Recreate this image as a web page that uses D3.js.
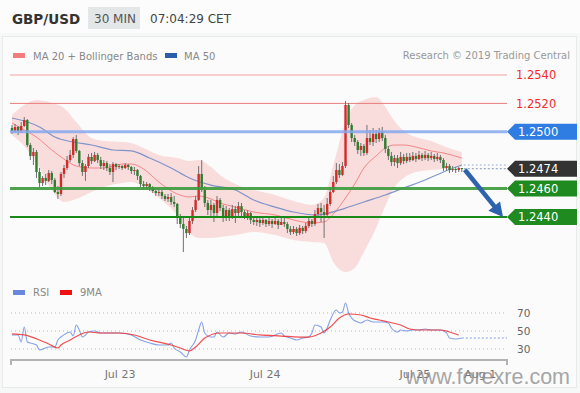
<!DOCTYPE html>
<html><head><meta charset="utf-8">
<script src="https://cdn.jsdelivr.net/npm/d3@7"></script>
<style>html,body{margin:0;padding:0;background:#f6f7f7;}svg{display:block;font-family:"DejaVu Sans",sans-serif;}</style>
</head><body><svg id="c" width="580" height="393"></svg>
<script>
// ---------- DATA ----------
const firstOpen = 1.25027;
const closes = [1.25006,1.25034,1.25006,1.25041,1.25083,1.24907,1.24830,1.24858,1.24717,1.24639,
1.24675,1.24654,1.24710,1.24661,1.24576,1.24562,1.24703,1.24745,1.24801,1.24837,
1.24949,1.24865,1.24780,1.24717,1.24759,1.24823,1.24794,1.24837,1.24801,1.24759,
1.24780,1.24745,1.24717,1.24773,1.24752,1.24759,1.24745,1.24766,1.24752,1.24724,
1.24731,1.24689,1.24632,1.24618,1.24632,1.24604,1.24583,1.24569,1.24576,1.24548,
1.24527,1.24541,1.24506,1.24492,1.24393,1.24351,1.24316,1.24287,1.24372,1.24449,
1.24520,1.24703,1.24590,1.24499,1.24449,1.24485,1.24428,1.24520,1.24463,1.24393,
1.24449,1.24400,1.24456,1.24428,1.24477,1.24435,1.24407,1.24428,1.24379,1.24365,
1.24379,1.24358,1.24379,1.24351,1.24372,1.24351,1.24372,1.24344,1.24365,1.24351,
1.24316,1.24294,1.24316,1.24287,1.24323,1.24301,1.24337,1.24372,1.24351,1.24421,
1.24463,1.24435,1.24414,1.24492,1.24576,1.24646,1.24731,1.24696,1.24759,1.25189,
1.25048,1.24956,1.24928,1.24872,1.24900,1.24851,1.24956,1.24928,1.24985,1.24949,
1.24999,1.24956,1.24879,1.24830,1.24787,1.24815,1.24780,1.24823,1.24794,1.24823,
1.24801,1.24830,1.24808,1.24837,1.24815,1.24837,1.24815,1.24830,1.24808,1.24823,
1.24801,1.24745,1.24759,1.24731,1.24738,1.24731,1.24745,1.24740];
const highs = [1.25048,1.25055,1.25041,1.25069,1.25104,1.25090,1.24921,1.24886,1.24872,1.24745,
1.24689,1.24703,1.24731,1.24724,1.24675,1.24618,1.24717,1.24766,1.24830,1.24872,
1.24963,1.24977,1.24872,1.24801,1.24773,1.24844,1.24851,1.24858,1.24851,1.24823,
1.24801,1.24794,1.24773,1.24787,1.24780,1.24773,1.24766,1.24780,1.24773,1.24759,
1.24752,1.24738,1.24696,1.24654,1.24646,1.24639,1.24618,1.24597,1.24597,1.24590,
1.24562,1.24562,1.24569,1.24548,1.24499,1.24421,1.24393,1.24337,1.24393,1.24470,
1.24548,1.24759,1.24801,1.24618,1.24520,1.24520,1.24499,1.24548,1.24534,1.24485,
1.24477,1.24463,1.24485,1.24477,1.24506,1.24499,1.24449,1.24449,1.24435,1.24400,
1.24400,1.24393,1.24400,1.24386,1.24393,1.24386,1.24393,1.24386,1.24407,1.24393,
1.24365,1.24337,1.24337,1.24330,1.24344,1.24337,1.24358,1.24393,1.24386,1.24449,
1.24492,1.24499,1.24485,1.24534,1.24604,1.24689,1.24780,1.24773,1.24787,1.25217,
1.25203,1.25062,1.24977,1.24942,1.24921,1.24914,1.25048,1.25013,1.25027,1.25013,
1.25027,1.25034,1.24977,1.24900,1.24858,1.24837,1.24837,1.24858,1.24844,1.24851,
1.24851,1.24858,1.24851,1.24865,1.24851,1.24865,1.24851,1.24858,1.24844,1.24851,
1.24837,1.24815,1.24780,1.24773,1.24759,1.24752,1.24752,1.24745];
const lows = [1.24985,1.24992,1.24977,1.24992,1.25034,1.24893,1.24801,1.24766,1.24675,1.24611,
1.24618,1.24625,1.24646,1.24632,1.24569,1.24527,1.24548,1.24675,1.24731,1.24787,
1.24815,1.24851,1.24759,1.24689,1.24654,1.24745,1.24773,1.24787,1.24780,1.24738,
1.24731,1.24724,1.24696,1.24646,1.24731,1.24738,1.24731,1.24738,1.24731,1.24703,
1.24696,1.24661,1.24611,1.24597,1.24597,1.24583,1.24569,1.24548,1.24548,1.24527,
1.24513,1.24506,1.24485,1.24470,1.24351,1.24323,1.24153,1.24252,1.24273,1.24351,
1.24435,1.24513,1.24576,1.24470,1.24414,1.24393,1.24365,1.24407,1.24442,1.24365,
1.24372,1.24372,1.24386,1.24358,1.24407,1.24407,1.24386,1.24379,1.24351,1.24344,
1.24337,1.24330,1.24344,1.24330,1.24337,1.24323,1.24344,1.24316,1.24344,1.24330,
1.24287,1.24273,1.24280,1.24266,1.24273,1.24280,1.24287,1.24323,1.24330,1.24337,
1.24400,1.24365,1.24252,1.24407,1.24477,1.24569,1.24632,1.24675,1.24689,1.24745,
1.25027,1.24928,1.24900,1.24844,1.24830,1.24830,1.24837,1.24907,1.24900,1.24921,
1.24928,1.24935,1.24851,1.24801,1.24759,1.24759,1.24745,1.24766,1.24773,1.24780,
1.24787,1.24794,1.24787,1.24801,1.24794,1.24801,1.24794,1.24801,1.24787,1.24794,
1.24780,1.24724,1.24724,1.24710,1.24717,1.24710,1.24717,1.24717];

const bandIdx = [0,4,8,13,17,21,26,30,36,39,43,48,54,58,61,65,68,73,79,86,92,98,102,105,109,112,115,119,122,125,128,132,137,141,147];
const bbUpper = [1.25118,1.25189,1.25224,1.25203,1.25168,1.25069,1.24956,1.24935,1.24928,1.24921,1.24886,1.24837,1.24815,1.24794,1.24801,1.24752,1.24696,1.24632,1.24590,1.24555,1.24513,1.24485,1.24534,1.24766,1.25069,1.25189,1.25224,1.25245,1.25175,1.25076,1.25006,1.24963,1.24935,1.24900,1.24858];
const bbLower = [1.24977,1.24900,1.24780,1.24590,1.24506,1.24527,1.24576,1.24611,1.24639,1.24646,1.24611,1.24534,1.24414,1.24287,1.24252,1.24252,1.24259,1.24273,1.24294,1.24273,1.24238,1.24224,1.24217,1.24083,1.24013,1.24041,1.24154,1.24323,1.24477,1.24611,1.24675,1.24717,1.24731,1.24738,1.24752];
const ma20 = [1.25062,1.25013,1.24963,1.24872,1.24808,1.24759,1.24745,1.24745,1.24773,1.24773,1.24738,1.24646,1.24562,1.24541,1.24548,1.24527,1.24499,1.24470,1.24435,1.24414,1.24379,1.24358,1.24365,1.24421,1.24534,1.24632,1.24745,1.24830,1.24886,1.24907,1.24907,1.24893,1.24865,1.24851,1.24815];
const ma50Idx = [0,9,14,20,26,33,39,45,52,58,65,73,79,86,92,99,102,109,115,122,128,135,141,147];
const ma50 = [1.25097,1.25034,1.24963,1.24928,1.24907,1.24872,1.24865,1.24815,1.24745,1.24675,1.24625,1.24590,1.24520,1.24470,1.24435,1.24414,1.24421,1.24463,1.24506,1.24555,1.24604,1.24661,1.24717,1.24766];

const rsiIdx = [0,2,3,4,5,6,8,9,11,12,14,15,16,18,19,20,21,22,23,24,25,27,29,32,35,39,42,45,48,51,52,53,55,57,58,60,61,62,63,65,66,67,69,71,73,75,76,78,81,84,88,89,91,93,95,97,98,99,101,102,103,104,106,107,108,109,110,111,113,114,116,118,119,121,123,124,126,127,129,131,133,135,137,138,140,142,143,145,147];
const rsiVal = [45.6,45.6,37.8,54.4,37.8,36.7,34.4,28.9,31.1,32.2,32.2,40.0,43.3,47.8,48.9,44.4,56.7,51.1,43.3,45.6,48.9,50.0,47.8,47.8,47.8,45.6,40.0,36.7,34.4,34.4,36.7,31.1,26.7,21.1,28.9,40.0,51.1,60.0,47.8,43.3,43.3,48.9,43.3,47.8,46.7,48.9,47.8,44.4,43.3,43.3,47.8,44.4,42.2,40.0,42.2,43.3,47.8,56.7,54.4,47.8,53.3,62.2,73.3,70.0,71.1,81.1,70.0,64.4,60.0,58.9,62.2,60.0,60.0,60.0,58.9,53.3,48.9,51.1,50.0,51.1,51.1,52.2,51.1,51.1,51.1,47.8,42.2,41.1,42.2];
const rsiMaIdx = [0,4,9,12,15,16,19,22,25,29,35,40,45,52,55,58,60,63,68,75,81,88,94,97,101,104,107,110,114,117,120,123,127,130,133,140,143,146];
const rsiMaVal = [46.7,45.6,40.0,35.6,31.1,34.4,40.0,45.6,48.9,47.8,47.8,45.6,40.0,34.4,31.1,27.8,32.2,42.2,47.8,47.8,45.6,44.4,43.3,43.3,47.8,54.4,64.4,68.9,67.8,64.4,62.2,60.0,56.7,52.2,51.1,51.1,48.9,45.6];

const levelValues = [1.2540,1.2520,1.2500,1.2474,1.2460,1.2440];
const levelLabels = ["1.2540","1.2520","1.2500","1.2474","1.2460","1.2440"];
const rsiTicks = [30,50,70];
const dateLabels = ["Jul 23","Jul 24","Jul 25","Aug 1"];
const dateIdx = [35.3,82.7,131.7,153];
const targetLevel = 1.2440;

// ---------- DRAW ----------
const W=580,H=393;
const svg=d3.select("#c");
const x=d3.scaleLinear().domain([0,147]).range([12,461.8]);
const y=d3.scaleLinear().domain([1.2440,1.2540]).range([217,75]);
const yr=d3.scaleLinear().domain([30,70]).range([349,313]);
const xEnd=507;

svg.append("rect").attr("width",W).attr("height",H).attr("fill","#f6f7f7");
svg.append("rect").attr("width",W).attr("height",33).attr("fill","#fcfcfc");
svg.append("rect").attr("x",2.5).attr("y",36.5).attr("width",574).attr("height",351)
  .attr("fill","#fbfbfb").attr("stroke","#e8eaea");

// header
svg.append("text").attr("x",12).attr("y",24).attr("font-size",13.5).attr("font-weight","bold").attr("fill","#333").text("GBP/USD");
svg.append("rect").attr("x",88).attr("y",7).attr("width",52).attr("height",22).attr("fill","#e3e7e7");
svg.append("text").attr("x",94).attr("y",23).attr("font-size",12).attr("fill","#555").text("30 MIN");
svg.append("text").attr("x",150).attr("y",23).attr("font-size",12).attr("fill","#444").text("07:04:29 CET");

// legend
svg.append("rect").attr("x",13).attr("y",53).attr("width",12).attr("height",5).attr("fill","#f27d7d");
svg.append("text").attr("x",33).attr("y",60).attr("font-size",10).attr("fill","#888").text("MA 20 + Bollinger Bands");
svg.append("rect").attr("x",165).attr("y",53).attr("width",12).attr("height",5).attr("fill","#2b5ea8");
svg.append("text").attr("x",184).attr("y",60).attr("font-size",10).attr("fill","#888").text("MA 50");
svg.append("text").attr("x",570).attr("y",59).attr("text-anchor","end").attr("font-size",10).attr("fill","#999").text("Research © 2019 Trading Central");

// Bollinger band
const band = bandIdx.map((d,i)=>({i:d,u:bbUpper[i],l:bbLower[i],m:ma20[i]}));
svg.append("path").datum(band)
  .attr("d",d3.area().x(d=>x(d.i)).y0(d=>y(d.l)).y1(d=>y(d.u)).curve(d3.curveMonotoneX))
  .attr("fill","#f8c4c4").attr("opacity",0.55);

// resistance lines (behind)
const lv = (v)=>y(levelValues[v]);
svg.append("line").attr("x1",10).attr("x2",xEnd).attr("y1",lv(0)).attr("y2",lv(0)).attr("stroke","#f4a3a3").attr("stroke-width",1);
svg.append("line").attr("x1",10).attr("x2",xEnd).attr("y1",lv(1)).attr("y2",lv(1)).attr("stroke","#e97b7b").attr("stroke-width",1);

// MA lines
svg.append("path").datum(band)
  .attr("d",d3.line().x(d=>x(d.i)).y(d=>y(d.m)).curve(d3.curveMonotoneX))
  .attr("fill","none").attr("stroke","#f27070").attr("stroke-width",1).attr("opacity",0.8);
const ma50d = ma50Idx.map((d,i)=>({i:d,v:ma50[i]}));
svg.append("path").datum(ma50d)
  .attr("d",d3.line().x(d=>x(d.i)).y(d=>y(d.v)).curve(d3.curveMonotoneX))
  .attr("fill","none").attr("stroke","#6a86c4").attr("stroke-width",1.2).attr("opacity",0.85);

// candles
const candles = closes.map((c,i)=>({i,o:i===0?firstOpen:closes[i-1],c,h:highs[i],l:lows[i]}));
const cg = svg.append("g");
cg.selectAll("line.w").data(candles).join("line")
  .attr("x1",d=>x(d.i)).attr("x2",d=>x(d.i))
  .attr("y1",d=>y(d.h)).attr("y2",d=>y(d.l))
  .attr("stroke","#707070").attr("stroke-width",1);
cg.selectAll("rect").data(candles).join("rect")
  .attr("x",d=>x(d.i)-1.2).attr("width",2.4)
  .attr("y",d=>y(Math.max(d.o,d.c)))
  .attr("height",d=>Math.max(1,Math.abs(y(d.o)-y(d.c))))
  .attr("fill",d=>d.c>=d.o?"#d42a2a":"#2f7d2f");

// support lines / 1.2500
svg.append("line").attr("x1",10).attr("x2",xEnd).attr("y1",lv(2)).attr("y2",lv(2)).attr("stroke","#86a9ee").attr("stroke-width",3).attr("opacity",0.85);
svg.append("line").attr("x1",10).attr("x2",xEnd).attr("y1",lv(4)).attr("y2",lv(4)).attr("stroke","#3b9b3b").attr("stroke-width",3).attr("opacity",0.9);
svg.append("line").attr("x1",10).attr("x2",xEnd).attr("y1",lv(5)).attr("y2",lv(5)).attr("stroke","#178a17").attr("stroke-width",2);

// dotted extensions
const last = candles[candles.length-1];
svg.append("line").attr("x1",x(last.i)+2).attr("x2",xEnd).attr("y1",y(ma50[ma50.length-1])).attr("y2",y(ma50[ma50.length-1]))
  .attr("stroke","#9fb3d6").attr("stroke-dasharray","2,2");
svg.append("line").attr("x1",x(last.i)+2).attr("x2",xEnd).attr("y1",lv(3)).attr("y2",lv(3))
  .attr("stroke","#7f95b5").attr("stroke-dasharray","2,2");

// arrow
const ax0=x(last.i)+3, ay0=y(last.c)+1, ax1=503, ay1=y(targetLevel);
const dx=ax1-ax0, dy=ay1-ay0, len=Math.hypot(dx,dy), ux=dx/len, uy=dy/len;
const hl=14, hw=7.5;
const bx=ax1-ux*hl, by=ay1-uy*hl;
svg.append("line").attr("x1",ax0).attr("y1",ay0).attr("x2",bx+ux*2).attr("y2",by+uy*2)
  .attr("stroke","#2d63ad").attr("stroke-width",4.5);
svg.append("path").attr("d",`M${ax1},${ay1}L${bx-uy*hw},${by+ux*hw}L${bx+uy*hw},${by-ux*hw}Z`).attr("fill","#2d63ad");

// right labels
const tagColors = {2:"#2f7de3",3:"#333333",4:"#1f8a1f",5:"#1f8a1f"};
levelValues.forEach((v,k)=>{
  const yc=y(v);
  if(tagColors[k]){
    svg.append("path").attr("d",`M507,${yc}L515,${yc-8}L577,${yc-8}L577,${yc+8}L515,${yc+8}Z`).attr("fill",tagColors[k]);
    svg.append("text").attr("x",518).attr("y",yc).attr("dy","0.36em").attr("font-size",11.5).attr("fill","#fff").text(levelLabels[k]);
  } else {
    svg.append("text").attr("x",516).attr("y",yc).attr("dy","0.36em").attr("font-size",11.5).attr("fill","#f42a2a").text(levelLabels[k]);
  }
});

// RSI panel
svg.append("rect").attr("x",13).attr("y",290).attr("width",12).attr("height",5).attr("fill","#6688dd");
svg.append("text").attr("x",33).attr("y",296).attr("font-size",10).attr("fill","#888").text("RSI");
svg.append("rect").attr("x",60).attr("y",290).attr("width",12).attr("height",5).attr("fill","#ee1111");
svg.append("text").attr("x",80).attr("y",296).attr("font-size",10).attr("fill","#888").text("9MA");

rsiTicks.forEach(t=>{
  svg.append("line").attr("x1",11).attr("x2",xEnd).attr("y1",yr(t)).attr("y2",yr(t))
    .attr("stroke","#b8b8b8").attr("stroke-dasharray","1,3");
  svg.append("text").attr("x",517).attr("y",yr(t)).attr("dy","0.36em").attr("font-size",10.5).attr("fill","#666").text(t);
});
const rsiD = rsiIdx.map((d,i)=>({i:d,v:rsiVal[i]}));
svg.append("path").datum(rsiD)
  .attr("d",d3.line().x(d=>x(d.i)).y(d=>yr(d.v)).curve(d3.curveMonotoneX))
  .attr("fill","none").attr("stroke","#86a1e6").attr("stroke-width",1.1);
const rsiMaD = rsiMaIdx.map((d,i)=>({i:d,v:rsiMaVal[i]}));
svg.append("path").datum(rsiMaD)
  .attr("d",d3.line().x(d=>x(d.i)).y(d=>yr(d.v)).curve(d3.curveMonotoneX))
  .attr("fill","none").attr("stroke","#f03030").attr("stroke-width",1.2).attr("opacity",0.85);
const lastR = rsiD[rsiD.length-1];
svg.append("line").attr("x1",x(lastR.i)).attr("x2",xEnd).attr("y1",yr(lastR.v)).attr("y2",yr(lastR.v))
  .attr("stroke","#86a1e6").attr("stroke-dasharray","2,2");

// x axis
svg.append("path").attr("d",`M11,365V360H${xEnd}V365`).attr("fill","none").attr("stroke","#b3b3b3").attr("stroke-width",2);
dateLabels.forEach((t,k)=>{
  svg.append("text").attr("x",x(dateIdx[k])).attr("y",378).attr("text-anchor","middle").attr("font-size",11).attr("fill","#777").text(t);
});

// watermark
svg.append("text").attr("x",570).attr("y",384).attr("text-anchor","end")
  .attr("font-family","Liberation Sans, Arial, sans-serif").attr("font-size",21.5)
  .attr("fill","#8a8a8a").attr("opacity",0.75).text("www.forexre.com");
</script>
</body></html>
